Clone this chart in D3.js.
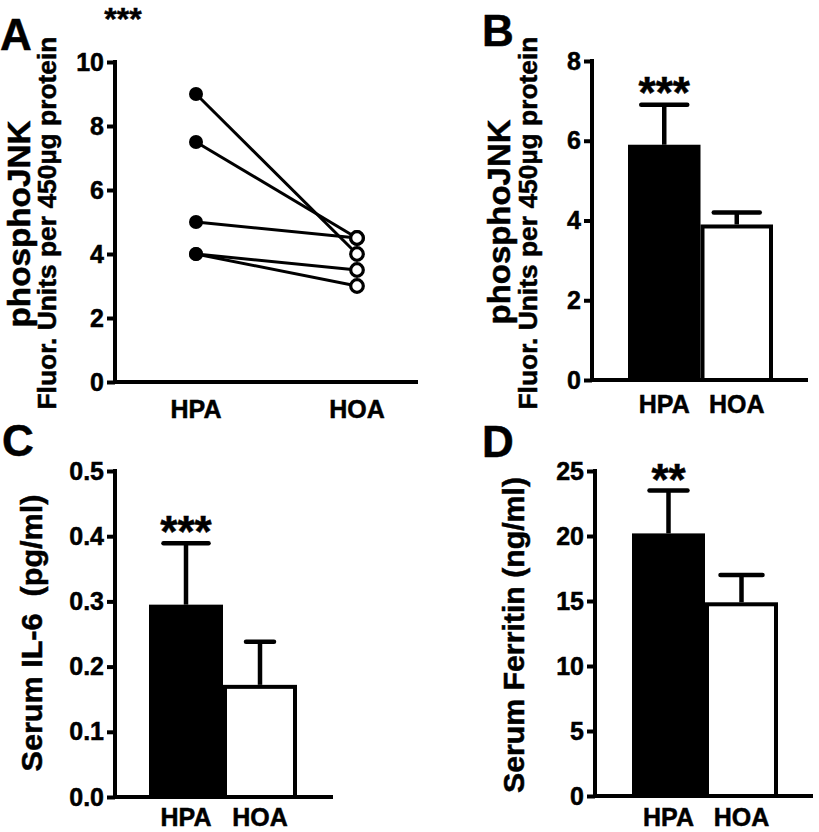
<!DOCTYPE html>
<html>
<head>
<meta charset="utf-8">
<script src="https://cdn.jsdelivr.net/npm/d3@7"></script>
<style>
  html, body { margin: 0; padding: 0; background: #fff; }
  text { font-family: "Liberation Sans", Arial, sans-serif; font-weight: bold; fill: #000; stroke: #000; stroke-width: 0.5px; }
</style>
</head>
<body>
<svg id="fig" width="819" height="832"></svg>
<script>
// ---------------- data ----------------
const groups = ["HPA", "HOA"];

// Panel A: paired values (phosphoJNK)
const jnkHPA = [9, 7.5, 5, 4, 4];
const jnkHOA = [4, 4.5, 4.5, 3.5, 3];
const ticksA = [0, 2, 4, 6, 8, 10];

// Panel B: phosphoJNK mean and SEM
const jnkMean = [5.9, 3.9];
const jnkSem = [1.0, 0.3];
const ticksB = [0, 2, 4, 6, 8];

// Panel C: Serum IL-6 mean and SEM
const il6Mean = [0.295, 0.172];
const il6Sem = [0.094, 0.066];
const ticksC = [0, 0.1, 0.2, 0.3, 0.4, 0.5];

// Panel D: Serum Ferritin mean and SEM
const ferMean = [20.2, 14.9];
const ferSem = [3.3, 2.1];
const ticksD = [0, 5, 10, 15, 20, 25];

const sigA = "***", sigB = "***", sigC = "***", sigD = "**";

// ---------------- drawing ----------------
const svg = d3.select("#fig");
const AXW = 4;

function yAxis(g, scale, x, ticks, fmt) {
  const ax = d3.axisLeft(scale).tickValues(ticks).tickSize(8).tickPadding(3)
    .tickFormat(fmt || d3.format("d"));
  const a = g.append("g").attr("transform", `translate(${x},0)`).call(ax);
  a.select(".domain").remove();
  a.selectAll(".tick line").attr("stroke", "#000").attr("stroke-width", AXW);
  a.selectAll(".tick text").style("font-size", "25px").attr("fill", "#000")
    .style("font-family", "'Liberation Sans', Arial, sans-serif").style("font-weight", "bold");
  const r = scale.range();
  g.append("line").attr("x1", x).attr("x2", x).attr("y1", r[0] + AXW / 2).attr("y2", r[1] - AXW / 2)
    .attr("stroke", "#000").attr("stroke-width", AXW);
}
function xLine(g, y, x0, x1) {
  g.append("line").attr("x1", x0 - AXW / 2).attr("x2", x1).attr("y1", y).attr("y2", y)
    .attr("stroke", "#000").attr("stroke-width", AXW);
}
function vLabel(g, txt, x, y, fs, len) {
  const t = g.append("text").attr("transform", `translate(${x},${y}) rotate(-90)`)
    .attr("text-anchor", "middle").style("font-size", fs + "px").text(txt);
  if (len) t.attr("textLength", len).attr("lengthAdjust", "spacingAndGlyphs");
}
function letter(txt, x, y) {
  svg.append("text").attr("x", x).attr("y", y).style("font-size", "44px").text(txt);
}

// ---- Panel A ----
{
  const g = svg.append("g");
  const y = d3.scaleLinear().domain([0, 10]).range([382, 62]);
  const x = d3.scalePoint().domain(groups).range([196, 357]);
  yAxis(g, y, 115, ticksA);
  xLine(g, 382, 115, 418);
  const pairs = jnkHPA.map((v, i) => [v, jnkHOA[i]]);
  g.selectAll(".pair").data(pairs).enter().append("line")
    .attr("x1", x("HPA")).attr("x2", x("HOA"))
    .attr("y1", d => y(d[0])).attr("y2", d => y(d[1]))
    .attr("stroke", "#000").attr("stroke-width", 3);
  g.selectAll(".fc").data(jnkHPA).enter().append("circle")
    .attr("cx", x("HPA")).attr("cy", d => y(d)).attr("r", 7).attr("fill", "#000");
  g.selectAll(".oc").data(jnkHOA).enter().append("circle")
    .attr("cx", x("HOA")).attr("cy", d => y(d)).attr("r", 6.3)
    .attr("fill", "#fff").attr("stroke", "#000").attr("stroke-width", 3.2);
  groups.forEach(c => g.append("text").attr("x", x(c)).attr("y", 418)
    .attr("text-anchor", "middle").style("font-size", "25px").text(c));
  g.append("text").attr("x", 123).attr("y", 30).attr("text-anchor", "middle")
    .style("font-size", "32px").text(sigA);
  vLabel(g, "phosphoJNK", 30, 224, 32, 207);
  vLabel(g, "Fluor. Units per 450\u00b5g protein", 56, 223, 26, 373);
  letter("A", 0, 50);
}

function barPanel(cfg) {
  const g = svg.append("g");
  const y = d3.scaleLinear().domain(cfg.domain).range([cfg.y0, cfg.y1]);
  const x = d3.scaleBand().domain(groups).range([cfg.bx0, cfg.bx1]).padding(0);
  const bw = 4;
  g.selectAll(".bar").data(cfg.mean).enter().append("rect")
    .attr("x", (d, i) => x(groups[i]) + bw / 2)
    .attr("width", x.bandwidth() - bw)
    .attr("y", d => y(d) + bw / 2)
    .attr("height", d => cfg.y0 - y(d) - bw / 2)
    .attr("fill", (d, i) => i === 0 ? "#000" : "#fff")
    .attr("stroke", "#000").attr("stroke-width", bw);
  cfg.mean.forEach((m, i) => {
    const cx = x(groups[i]) + x.bandwidth() / 2;
    const top = y(m + cfg.sem[i]);
    g.append("line").attr("x1", cx).attr("x2", cx).attr("y1", y(m)).attr("y2", top)
      .attr("stroke", "#000").attr("stroke-width", 4.5);
    g.append("line").attr("x1", cx - cfg.caps[i] / 2).attr("x2", cx + cfg.caps[i] / 2)
      .attr("y1", top).attr("y2", top)
      .attr("stroke", "#000").attr("stroke-width", 4.5).attr("stroke-linecap", "round");
    g.append("text").attr("x", cx).attr("y", cfg.lblY).attr("text-anchor", "middle")
      .style("font-size", "25px").text(groups[i]);
  });
  const cx0 = x(groups[0]) + x.bandwidth() / 2;
  g.append("text").attr("x", cx0).attr("y", y(cfg.mean[0] + cfg.sem[0]) + cfg.sigOff)
    .attr("text-anchor", "middle").style("font-size", "44px").text(cfg.sig);
  yAxis(g, y, cfg.ax, cfg.ticks, cfg.fmt);
  xLine(g, cfg.y0, cfg.ax, cfg.xEnd);
  cfg.labels.forEach(l => vLabel(g, l.t, l.x, l.y, l.fs, l.len));
}

// ---- Panel B ----
barPanel({
  domain: [0, 8], y0: 380, y1: 61, bx0: 628, bx1: 773, ax: 592, xEnd: 808,
  mean: jnkMean, sem: jnkSem, caps: [46, 46], ticks: ticksB, sig: sigB, sigOff: 3, lblY: 413,
  labels: [{ t: "phosphoJNK", x: 510, y: 222, fs: 32, len: 205 },
           { t: "Fluor. Units per 450\u00b5g protein", x: 537, y: 223, fs: 26, len: 373 }]
});
letter("B", 482, 46);

// ---- Panel C ----
barPanel({
  domain: [0, 0.5], y0: 797, y1: 471, bx0: 149, bx1: 297, ax: 115, xEnd: 333,
  mean: il6Mean, sem: il6Sem, caps: [45, 28], ticks: ticksC, fmt: d3.format(".1f"),
  sig: sigC, sigOff: 4, lblY: 826,
  labels: [{ t: "Serum IL-6\u00a0 (pg/ml)", x: 42, y: 633, fs: 30, len: 277 }]
});
letter("C", 2, 456);

// ---- Panel D ----
barPanel({
  domain: [0, 25], y0: 796, y1: 471, bx0: 632, bx1: 778, ax: 595, xEnd: 813,
  mean: ferMean, sem: ferSem, caps: [38, 42], ticks: ticksD, sig: sigD, sigOff: 4, lblY: 826,
  labels: [{ t: "Serum Ferritin (ng/ml)", x: 524, y: 635, fs: 30, len: 316 }]
});
letter("D", 482, 457);
</script>
</body>
</html>
